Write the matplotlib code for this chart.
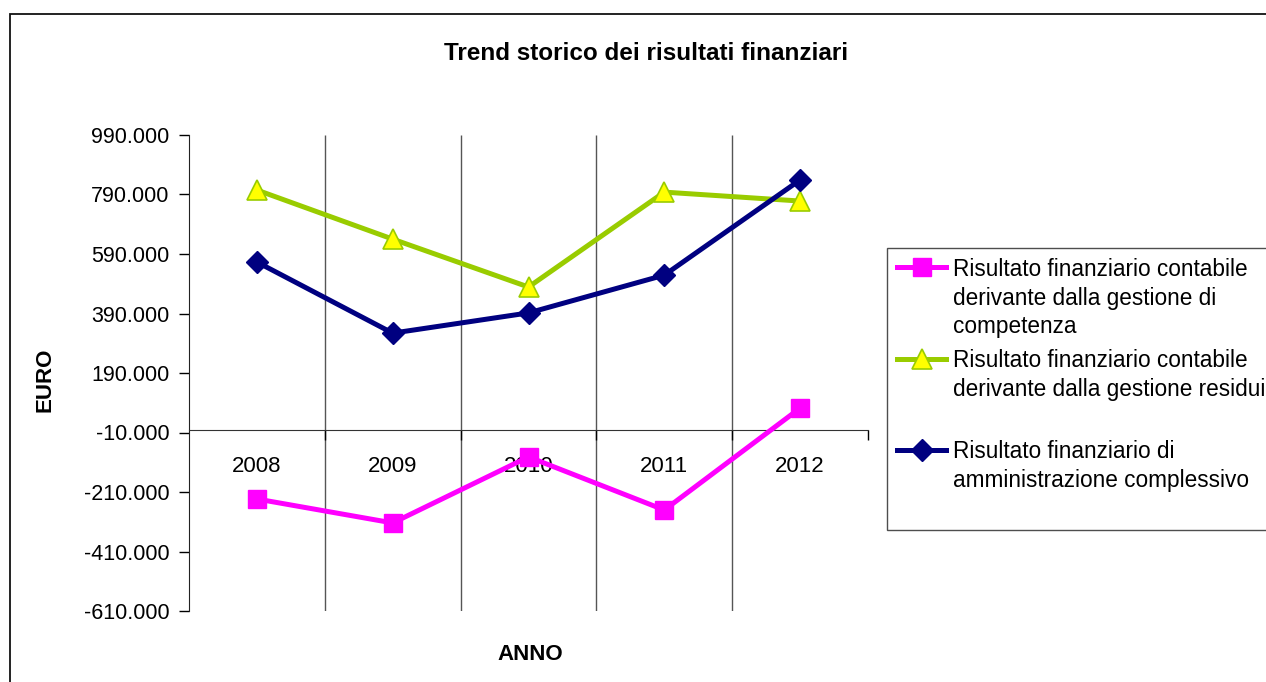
import numpy as np
import matplotlib.pyplot as plt
from matplotlib.patches import Rectangle

plt.rcParams['font.family'] = ['Liberation Sans', 'DejaVu Sans']

anni = ['2008', '2009', '2010', '2011', '2012']
competenza = [-233500, -314000, -92000, -270500, 72000]
residui = [805000, 640000, 479000, 798000, 768000]
complessivo = [563000, 324000, 392000, 519000, 839000]

lab_comp = 'Risultato finanziario contabile\nderivante dalla gestione di\ncompetenza'
lab_res = 'Risultato finanziario contabile\nderivante dalla gestione residui\n'
lab_tot = 'Risultato finanziario di\namministrazione complessivo\n'

yticks = list(range(-610000, 990001, 200000))

fig = plt.figure(figsize=(12.66, 6.82), dpi=100)
ax = fig.add_axes([189/1266, 1-611/682, (868-189)/1266, (611-135)/682])

x = np.arange(len(anni))
ax.plot(x, competenza, color='#FF00FF', lw=3.6, marker='s', ms=12.5,
        mfc='#FF00FF', mec='#FF00FF', label=lab_comp, zorder=3)
ax.plot(x, residui, color='#99CC00', lw=3.6, marker='^', ms=14,
        mfc='#FFFF00', mec='#99CC00', mew=1.2, label=lab_res, zorder=3)
ax.plot(x, complessivo, color='#000080', lw=3.6, marker='D', ms=11,
        mfc='#000080', mec='#000080', label=lab_tot, zorder=3)

ax.set_xlim(-0.5, len(anni)-0.5)
ax.set_ylim(yticks[0], yticks[-1])
ax.set_yticks(yticks)
ax.set_yticklabels([f"{v:,.0f}".replace(',', '.') for v in yticks])
ax.tick_params(axis='y', direction='out', length=7, width=1, pad=7, labelsize=15.5)

# categorie: tacche ai bordi, etichette al centro
ax.set_xticks(x + 0.5)
ax.set_xticklabels([])
ax.set_xticks(x, minor=True)
ax.set_xticklabels(anni, minor=True)
ax.tick_params(axis='x', which='major', direction='out', length=7, width=1)
ax.tick_params(axis='x', which='minor', length=0, pad=19, labelsize=16)
ax.vlines(x[:-1] + 0.5, yticks[0], yticks[-1], color='#555555', lw=1, zorder=1)

ax.spines['top'].set_visible(False)
ax.spines['right'].set_visible(False)
ax.spines['bottom'].set_position(('data', 0))
ax.spines['bottom'].set_color('#333333')
ax.spines['left'].set_color('#222222')

fig.text(646/1266, 1-53/682, 'Trend storico dei risultati finanziari',
         ha='center', va='center', fontsize=17.5, fontweight='bold')
fig.text(45/1266, 1-380/682, 'EURO', ha='center', va='center',
         rotation=90, fontsize=16, fontweight='bold')
fig.text(530/1266, 1-654/682, 'ANNO', ha='center', va='center',
         fontsize=16, fontweight='bold')

leg = ax.legend(loc='upper left', bbox_to_anchor=(887/1266, 1-248/682),
                bbox_transform=fig.transFigure, borderaxespad=0,
                fontsize=16.3, frameon=True, fancybox=False, handlelength=2.15,
                handleheight=1.1, handletextpad=0.3, borderpad=0.45,
                labelspacing=0.5)
leg.get_frame().set_edgecolor('#222222')
leg.get_frame().set_linewidth(1)
for t in leg.get_texts():
    t.set_linespacing(1.3)
# simbolo allineato alla prima riga del testo
for col in leg._legend_handle_box.get_children():
    for riga in col.get_children():
        riga.align = 'top'

# cornice esterna del grafico
fig.patches.append(Rectangle((10/1266, -0.1), 1.2, 1-14/682+0.1,
                             transform=fig.transFigure, fill=False,
                             edgecolor='#111111', lw=1.3))

fig.savefig('out.png', dpi=100)
